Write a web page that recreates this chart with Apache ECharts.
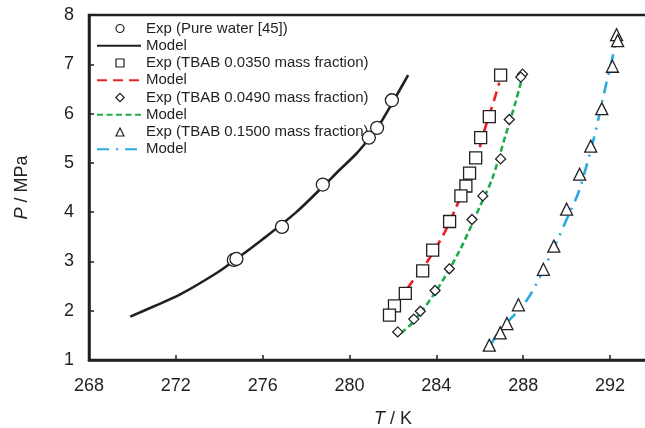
<!DOCTYPE html>
<html>
<head>
<meta charset="utf-8">
<script src="https://cdn.jsdelivr.net/npm/echarts@6/dist/echarts.min.js"></script>
<style>
html,body{margin:0;padding:0;background:#fff;}
#chart{width:645px;height:428px;}
</style>
</head>
<body>
<div id="chart"></div>
<script>
// ---- data (T in K, P in MPa) ----
const xTicks = [268, 272, 276, 280, 284, 288, 292];
const yTicks = [1, 2, 3, 4, 5, 6, 7, 8];

const waterExpT = [274.67, 274.79, 276.89, 278.77, 280.89, 281.27, 281.95];
const waterExpP = [3.03, 3.05, 3.70, 4.56, 5.51, 5.71, 6.27];
const waterModelT = [269.9, 271.0, 272.2, 273.9, 274.7, 276.0, 277.55, 278.8, 279.55, 280.3, 280.9, 281.3, 282.0, 282.7];
const waterModelP = [1.88, 2.09, 2.33, 2.77, 3.02, 3.45, 4.00, 4.53, 4.86, 5.18, 5.49, 5.72, 6.24, 6.78];

const t035ExpT = [286.96, 286.44, 286.04, 285.81, 285.53, 285.36, 285.13, 284.61, 283.83, 283.37, 282.57, 282.07, 281.84];
const t035ExpP = [6.78, 5.94, 5.51, 5.10, 4.79, 4.53, 4.33, 3.81, 3.23, 2.81, 2.35, 2.10, 1.91];
const t035ModelT = [282.25, 282.9, 283.6, 284.37, 284.9, 285.4, 285.75, 286.2, 286.67, 286.9];
const t035ModelP = [2.18, 2.60, 3.01, 3.58, 4.09, 4.58, 4.93, 5.64, 6.29, 6.63];

const t049ExpT = [287.97, 287.89, 287.36, 286.96, 286.14, 285.64, 284.60, 283.94, 283.26, 282.96, 282.22];
const t049ExpP = [6.80, 6.74, 5.88, 5.08, 4.33, 3.85, 2.85, 2.41, 1.99, 1.83, 1.57];
const t049ModelT = [282.37, 282.91, 283.99, 285.06, 285.98, 286.59, 287.20, 287.66, 287.97];
const t049ModelP = [1.55, 1.76, 2.40, 3.21, 4.09, 4.70, 5.58, 6.25, 6.76];

const t150ExpT = [292.30, 292.35, 292.11, 291.62, 291.11, 290.60, 290.00, 289.41, 288.93, 287.78, 287.25, 286.94, 286.44];
const t150ExpP = [7.60, 7.48, 6.96, 6.10, 5.34, 4.77, 4.06, 3.31, 2.84, 2.12, 1.74, 1.55, 1.30];
const t150ModelT = [286.5, 286.9, 287.97, 288.43, 289.27, 290.11, 290.57, 291.26, 291.8, 292.18, 292.3];
const t150ModelP = [1.30, 1.59, 2.10, 2.40, 3.14, 3.96, 4.43, 5.51, 6.56, 7.27, 7.61];

const names = [
  'Exp (Pure water [45])', 'Model',
  'Exp (TBAB 0.0350 mass fraction)', 'Model\u200b',
  'Exp (TBAB 0.0490 mass fraction)', 'Model\u200b\u200b',
  'Exp (TBAB 0.1500 mass fraction)', 'Model\u200b\u200b\u200b'
];
// legend icons drawn in a 44x9 box so they are not stretched
const expIcons = [
  'path://M0 0M44 9M27 4.5A4 4 0 1 1 19 4.5A4 4 0 1 1 27 4.5Z',
  'path://M0 0M44 9M19 0.5L27 0.5L27 8.5L19 8.5Z',
  'path://M0 0M44 9M23 0.3L27.2 4.5L23 8.7L18.8 4.5Z',
  'path://M0 0M44 9M23 0.5L27 8.5L19 8.5Z'
];

const zip = (a, b) => a.map((v, i) => [v, b[i]]);

const ink = '#231f20';
const expStyle = { color: '#ffffff', borderColor: ink, borderWidth: 1.3, opacity: 1 };

function expSeries(name, T, P, symbol, size) {
  return {
    type: 'scatter', name: name, data: zip(T, P),
    symbol: symbol, symbolSize: size, itemStyle: expStyle, z: 5
  };
}
function modelSeries(name, T, P, color, dash) {
  return {
    type: 'line', name: name, data: zip(T, P), smooth: 0.3,
    symbol: 'none', showSymbol: false,
    lineStyle: { color: color, width: 2.6, type: dash },
    itemStyle: { color: color }, z: 3
  };
}

const legendData = names.map((n, i) => {
  if (i % 2 === 0) {
    return { name: n, icon: expIcons[i / 2],
      itemStyle: { color: '#ffffff', borderColor: ink, borderWidth: 1.2, opacity: 1 } };
  }
  return { name: n, itemStyle: { color: 'rgba(0,0,0,0)', borderColor: 'rgba(0,0,0,0)', borderWidth: 0 } };
});

const chart = echarts.init(document.getElementById('chart'), null, { renderer: 'canvas' });
const font = 'Liberation Sans, Arial, Helvetica, sans-serif';

chart.setOption({
  animation: false,
  backgroundColor: '#ffffff',
  textStyle: { fontFamily: font },
  grid: {
    left: 89, top: 15, width: (296 - 268) * 21.71, height: 345,
    outerBoundsMode: 'none', containLabel: false,
    show: true, borderColor: ink, borderWidth: 2.5, backgroundColor: 'transparent'
  },
  legend: {
    orient: 'vertical', left: 96, top: 21, padding: 0,
    itemWidth: 44, itemHeight: 9, itemGap: 2.25,
    symbolKeepAspect: false,
    data: legendData,
    formatter: n => n.replace(/\u200b/g, ''),
    textStyle: { fontFamily: font, fontSize: 15, color: ink, padding: [0, 0, 0, 0] },
    selectedMode: false
  },
  xAxis: {
    type: 'value', min: 268, max: 296, interval: 4,
    name: '{i|T} / K', nameLocation: 'middle', nameGap: 50,
    nameTextStyle: { fontFamily: font, fontSize: 18, color: ink, rich: { i: { fontStyle: 'italic', fontFamily: font, fontSize: 18, color: ink } } },
    axisLine: { show: true, onZero: false, lineStyle: { color: ink, width: 2.5 } },
    axisTick: { show: true, inside: true, length: 5, lineStyle: { color: ink, width: 1.5 } },
    axisLabel: { fontFamily: font, fontSize: 18, color: ink, margin: 17,
      formatter: v => xTicks.indexOf(v) >= 0 ? String(v) : '' },
    splitLine: { show: false }
  },
  yAxis: {
    type: 'value', min: 1, max: 8, interval: 1,
    name: '{i|P} / MPa', nameLocation: 'middle', nameGap: 58,
    nameTextStyle: { fontFamily: font, fontSize: 18, color: ink, rich: { i: { fontStyle: 'italic', fontFamily: font, fontSize: 18, color: ink } } },
    axisLine: { show: true, onZero: false, lineStyle: { color: ink, width: 2.5 } },
    axisTick: { show: true, inside: true, length: 5, lineStyle: { color: ink, width: 1.5 } },
    axisLabel: { fontFamily: font, fontSize: 18, color: ink, margin: 15,
      formatter: v => yTicks.indexOf(v) >= 0 ? String(v) : '' },
    splitLine: { show: false }
  },
  series: [
    modelSeries(names[1], waterModelT, waterModelP, ink, 'solid'),
    modelSeries(names[3], t035ModelT, t035ModelP, '#ed1c24', [10, 6]),
    modelSeries(names[5], t049ModelT, t049ModelP, '#1fab4b', [6, 3.5]),
    modelSeries(names[7], t150ModelT, t150ModelP, '#27aae1', [12, 7, 2, 7]),
    expSeries(names[0], waterExpT, waterExpP, 'circle', 13),
    expSeries(names[2], t035ExpT, t035ExpP, 'rect', 12),
    expSeries(names[4], t049ExpT, t049ExpP, 'diamond', 10),
    expSeries(names[6], t150ExpT, t150ExpP, 'triangle', 12)
  ]
});
</script>
</body>
</html>
